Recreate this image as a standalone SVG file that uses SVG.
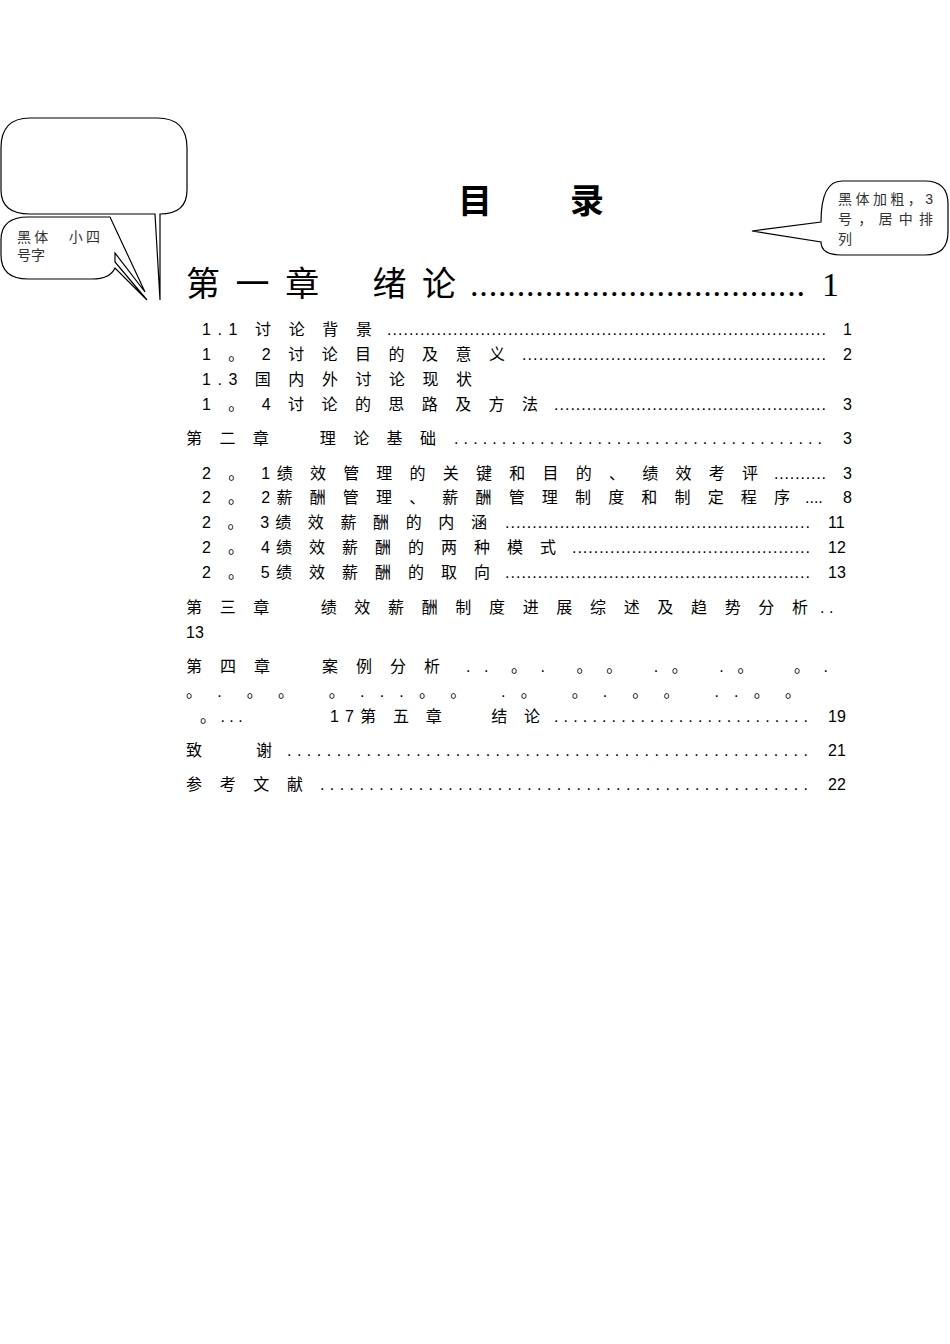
<svg xmlns="http://www.w3.org/2000/svg" width="950" height="1344" viewBox="0 0 950 1344">
<style>
.t{font-family:"Liberation Sans","Noto Sans CJK SC",sans-serif;font-size:16px;fill:#000}
.c{font-family:"Liberation Sans","Noto Sans CJK SC",sans-serif;font-size:14px;fill:#333}
.s{fill:#fff;stroke:#000;stroke-width:1.2}
</style>
<rect width="950" height="1344" fill="#fff"/>
<g id="callout-big"><path class="s" d="M30,118 H157 Q187,118 187,148 V190 Q187,214 160,214 L160,300 L155,214 H30 Q1,214 1,190 V148 Q1,118 30,118 Z"/></g>
<g id="callout-small"><path class="s" d="M28,217 H110 L145,292 L115,253 V262 L147,300 L115,268 Q110,279 92,279 H28 Q1,279 1,255 V240 Q1,217 28,217 Z"/>
<text class="c" x="17" y="242" textLength="83" lengthAdjust="spacing">黑体　小四</text><text class="c" x="17" y="260">号字</text></g>
<g id="callout-right"><path class="s" d="M842,181 H925 Q948,181 948,204 V232 Q948,255 925,255 H842 Q821,255 821,242 L752,231 L821,222 Q821,181 842,181 Z"/>
<text class="c" x="838" y="204" textLength="95" lengthAdjust="spacing">黑体加粗，3</text>
<text class="c" x="838" y="224" textLength="95" lengthAdjust="spacing">号，居中排</text>
<text class="c" x="838" y="244">列</text></g>
<g id="title"><text x="458" y="213" style="font-family:'Noto Sans CJK SC',sans-serif;font-weight:bold;font-size:34px">目</text><text x="570" y="213" style="font-family:'Noto Sans CJK SC',sans-serif;font-weight:bold;font-size:34px">录</text></g>
<g id="toc" class="t">
<text x="186" y="296" style="font-family:'Liberation Serif','Noto Sans CJK SC',serif;font-size:34px" textLength="270" lengthAdjust="spacing">第 一 章 　绪 论</text>
<text x="470" y="296" style="font-family:'Liberation Serif',serif;font-size:34px" textLength="335" lengthAdjust="spacing">....................................</text>
<text x="822" y="296" style="font-family:'Liberation Serif',serif;font-size:34px">1</text>

<text x="202" y="335" textLength="170" lengthAdjust="spacing">1.1  讨 论 背 景</text><text x="387" y="335" textLength="439" lengthAdjust="spacing">................................................................................</text><text x="843" y="335">1</text>
<text x="202" y="360" textLength="303" lengthAdjust="spacing">1 。 2  讨 论 目 的 及 意 义</text><text x="522" y="360" textLength="304" lengthAdjust="spacing">.......................................................</text><text x="843" y="360">2</text>
<text x="202" y="385" textLength="270" lengthAdjust="spacing">1.3  国 内 外 讨 论 现 状</text>
<text x="202" y="410" textLength="336" lengthAdjust="spacing">1 。 4  讨 论 的 思 路 及 方 法</text><text x="554" y="410" textLength="272" lengthAdjust="spacing">..................................................</text><text x="843" y="410">3</text>
<text x="186" y="444" textLength="250" lengthAdjust="spacing">第 二 章 　 理 论 基 础</text><text x="454" y="444" textLength="368" lengthAdjust="spacing">. . . . . . . . . . . . . . . . . . . . . . . . . . . . . . . . . . . . . . .</text><text x="843" y="444">3</text>
<text x="202" y="479" textLength="556" lengthAdjust="spacing">2 。 1绩 效 管 理 的 关 键 和 目 的 、 绩 效 考 评</text><text x="774" y="479" textLength="52" lengthAdjust="spacing">..........</text><text x="843" y="479">3</text>
<text x="202" y="503" textLength="588" lengthAdjust="spacing">2 。 2薪 酬 管 理 、 薪 酬 管 理 制 度 和 制 定 程 序</text><text x="805" y="503">....</text><text x="843" y="503">8</text>
<text x="202" y="528" textLength="285" lengthAdjust="spacing">2 。 3绩 效 薪 酬 的 内 涵</text><text x="505" y="528" textLength="305" lengthAdjust="spacing">........................................................</text><text x="828" y="528">11</text>
<text x="202" y="553" textLength="354" lengthAdjust="spacing">2 。 4绩 效 薪 酬 的 两 种 模 式</text><text x="572" y="553" textLength="238" lengthAdjust="spacing">............................................</text><text x="828" y="553">12</text>
<text x="202" y="578" textLength="288" lengthAdjust="spacing">2 。 5绩 效 薪 酬 的 取 向</text><text x="505" y="578" textLength="305" lengthAdjust="spacing">........................................................</text><text x="828" y="578">13</text>
<text x="186" y="613" textLength="622" lengthAdjust="spacing">第 三 章 　 绩 效 薪 酬 制 度 进 展 综 述 及 趋 势 分 析</text><text x="820" y="613">. .</text>
<text x="186" y="638">13</text>
<text x="186" y="672" textLength="254" lengthAdjust="spacing">第 四 章 　 案 例 分 析</text>
<text x="466" y="672" xml:space="preserve" textLength="362" lengthAdjust="spacing">. .  。 .   。 。   . 。   . 。    。 .</text>
<text x="186" y="697" xml:space="preserve" textLength="615" lengthAdjust="spacing">。 .  。 。   。 . . . 。 。   . 。   。 .  。 。   . . 。 。</text>
<text x="200" y="722" xml:space="preserve">。 . . .</text>
<text x="330" y="722" textLength="210" lengthAdjust="spacing">17第 五 章 　 结 论</text><text x="554" y="722" textLength="254" lengthAdjust="spacing">. . . . . . . . . . . . . . . . . . . . . . . . . . .</text><text x="828" y="722">19</text>
<text x="186" y="756" textLength="86" lengthAdjust="spacing">致 　 谢</text><text x="287" y="756" textLength="521" lengthAdjust="spacing">. . . . . . . . . . . . . . . . . . . . . . . . . . . . . . . . . . . . . . . . . . . . . . . . . . . . .</text><text x="828" y="756">21</text>
<text x="186" y="790" textLength="117" lengthAdjust="spacing">参 考 文 献</text><text x="320" y="790" textLength="488" lengthAdjust="spacing">. . . . . . . . . . . . . . . . . . . . . . . . . . . . . . . . . . . . . . . . . . . . . . . . . .</text><text x="828" y="790">22</text>
</g>
</svg>
